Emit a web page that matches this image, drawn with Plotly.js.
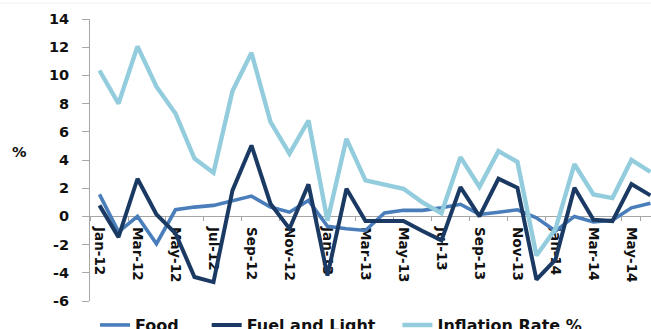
<!DOCTYPE html>
<html>
<head>
<meta charset="utf-8">
<script src="https://cdn.plot.ly/plotly-3.0.1.min.js"></script>
<style>
  html, body { margin: 0; padding: 0; background: #ffffff; }
  #chart { width: 651px; height: 329px; }
</style>
</head>
<body>
<div id="chart"></div>
<script>
// Monthly categories, Jan-12 .. Jun-14
const months = [
  'Jan-12','Feb-12','Mar-12','Apr-12','May-12','Jun-12','Jul-12','Aug-12','Sep-12','Oct-12','Nov-12','Dec-12',
  'Jan-13','Feb-13','Mar-13','Apr-13','May-13','Jun-13','Jul-13','Aug-13','Sep-13','Oct-13','Nov-13','Dec-13',
  'Jan-14','Feb-14','Mar-14','Apr-14','May-14','Jun-14'
];

// Series values (%)
const food = [1.56, -1.1, 0, -1.94, 0.47, 0.66, 0.78, 1.13, 1.44, 0.66, 0.3, 1.13,
              -0.7, -0.87, -1.0, 0.24, 0.43, 0.43, 0.61, 0.86, 0.14, 0.3, 0.47, -0.1,
              -1.04, 0, -0.4, -0.28, 0.61, 0.94];
const fuelAndLight = [0.78, -1.47, 2.67, 0.14, -1.2, -4.3, -4.66, 1.84, 5.03, 0.9, -0.87, 2.27,
                      -4.2, 1.96, -0.33, -0.33, -0.33, -1.04, -1.7, 2.08, 0, 2.67, 2.03, -4.49,
                      -3.07, 2.03, -0.24, -0.33, 2.3, 1.49];
const inflationRate = [10.35, 8.0, 12.06, 9.2, 7.3, 4.1, 3.1, 8.9, 11.6, 6.7, 4.45, 6.8,
                       -0.3, 5.5, 2.55, 2.27, 1.96, 1.0, 0.23, 4.2, 2.1, 4.63, 3.86, -2.77,
                       -0.9, 3.7, 1.56, 1.3, 4.0, 3.15];

// Axis ticks
const yTicks = [-6, -4, -2, 0, 2, 4, 6, 8, 10, 12, 14];
const xTickLabels = months.filter((m, i) => i % 2 === 0);

const FONT = 'DejaVu Sans, Verdana, sans-serif';
const AXIS_GRAY = '#a6a6a6';

function series(name, values, color, width, legendId) {
  return {
    type: 'scatter', mode: 'lines', name: name,
    x: months, y: values,
    line: { color: color, width: width },
    legend: legendId,
    hoverinfo: 'skip'
  };
}

const traces = [
  series('Food', food, '#4a7ebb', 3.6, 'legend'),
  series('Fuel and Light', fuelAndLight, '#1b3a63', 4, 'legend2'),
  series('Inflation Rate %', inflationRate, '#93cddd', 4.4, 'legend3')
];

function legendAt(x) {
  return {
    x: x, xref: 'paper', xanchor: 'left',
    y: -0.025, yref: 'paper', yanchor: 'top',
    orientation: 'h', bgcolor: 'rgba(0,0,0,0)',
    font: { family: FONT, size: 16, weight: 'bold', color: '#111111' },
    itemwidth: 30, tracegroupgap: 0
  };
}

const layout = {
  width: 651, height: 329,
  margin: { l: 90, r: 0, t: 19, b: 28, autoexpand: false },
  paper_bgcolor: '#ffffff', plot_bgcolor: '#ffffff',
  showlegend: true,
  legend: legendAt(0.009),
  legend2: legendAt(0.208),
  legend3: legendAt(0.548),
  xaxis: {
    type: 'category',
    range: [-0.5, 29.03],
    anchor: 'free', position: 0.3,
    tickmode: 'array', tickvals: xTickLabels, ticktext: xTickLabels,
    tickson: 'boundaries',
    ticks: 'outside', ticklen: 4, tickcolor: AXIS_GRAY, tickwidth: 1,
    tickangle: 90, ticklabelstandoff: 7,
    tickfont: { family: FONT, size: 13.5, weight: 'bold', color: '#111111' },
    showline: true, linecolor: AXIS_GRAY, linewidth: 1,
    showgrid: false, zeroline: false, fixedrange: true,
    layer: 'below traces'
  },
  yaxis: {
    range: [-6, 14],
    tickmode: 'array', tickvals: yTicks, ticktext: yTicks.map(String),
    ticks: 'outside', ticklen: 7, tickcolor: AXIS_GRAY, tickwidth: 1,
    ticklabelstandoff: 10,
    tickfont: { family: FONT, size: 14.5, weight: 'bold', color: '#111111' },
    showline: true, linecolor: AXIS_GRAY, linewidth: 1,
    showgrid: false, zeroline: false, fixedrange: true,
    layer: 'below traces'
  },
  annotations: [{
    text: '%', xref: 'paper', yref: 'paper',
    x: -0.125, y: 0.528, xanchor: 'center', yanchor: 'middle',
    showarrow: false,
    font: { family: FONT, size: 14.5, weight: 'bold', color: '#111111' }
  }],
  shapes: [{
    type: 'line', xref: 'paper', yref: 'paper',
    x0: -0.16, x1: 1, y0: 1.057, y1: 1.057,
    line: { color: '#f0f0f0', width: 1 }
  }]
};

Plotly.newPlot('chart', traces, layout, { displayModeBar: false, staticPlot: true });
</script>
</body>
</html>
